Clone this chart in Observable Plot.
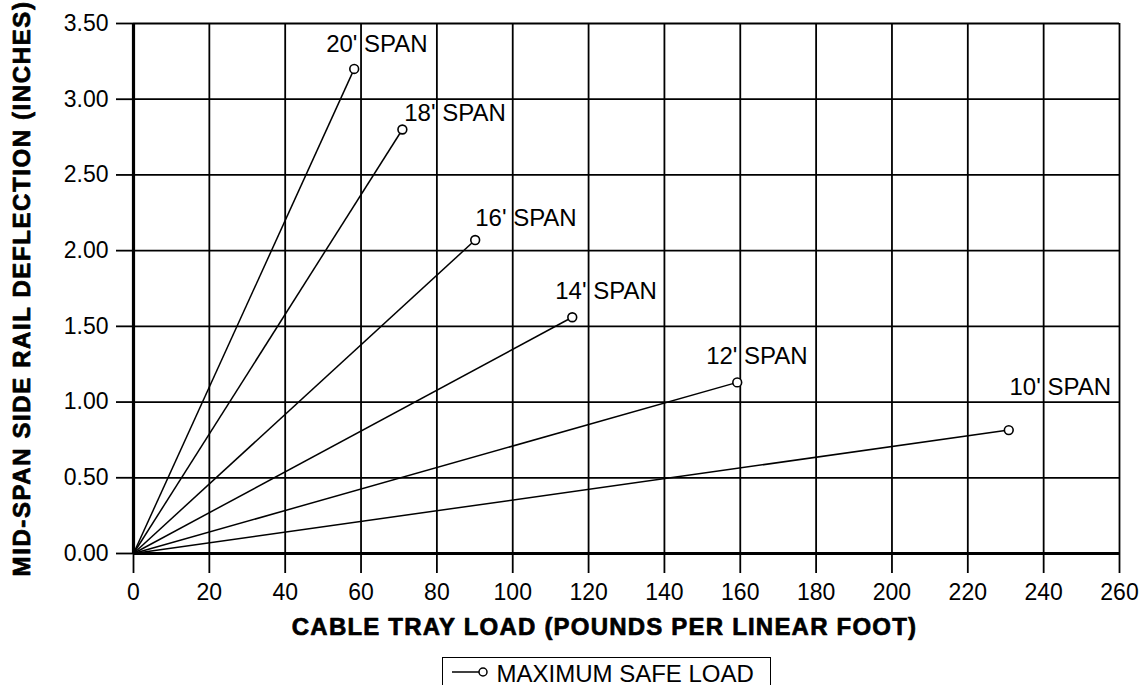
<!DOCTYPE html>
<html>
<head>
<meta charset="utf-8">
<script src="https://cdn.jsdelivr.net/npm/d3@7"></script>
<script src="https://cdn.jsdelivr.net/npm/@observablehq/plot@0.6"></script>
<style>
  html, body { margin: 0; padding: 0; background: #fff; }
  body { width: 1143px; height: 685px; overflow: hidden; font-family: Arial, "Liberation Sans", Helvetica, sans-serif; }
  #legend {
    position: absolute; left: 442px; top: 657px; width: 329px; height: 40px;
    border: 1.5px solid #000; box-sizing: border-box; background: #fff; color: #000;
  }
  #legend svg { position: absolute; left: 9px; top: 6.5px; }
  #legend span { position: absolute; left: 53.5px; top: 6px; font-size: 24px; line-height: 20px; white-space: nowrap; }
</style>
</head>
<body>
<div id="chart"></div>
<div id="legend"><svg width="40" height="14"><line x1="0" y1="7" x2="27" y2="7" stroke="#000" stroke-width="1.5"/><circle cx="31" cy="7" r="4" fill="#fff" stroke="#000" stroke-width="1.5"/></svg><span>MAXIMUM SAFE LOAD</span></div>
<script>
const spans = ["20' SPAN", "18' SPAN", "16' SPAN", "14' SPAN", "12' SPAN", "10' SPAN"];
const loads = [58.2, 70.9, 90.1, 115.7, 159.2, 230.8];
const deflections = [3.2, 2.8, 2.07, 1.56, 1.13, 0.815];
const labelLoads = [50.8, 71.4, 90.1, 111.2, 151.0, 231.0];
const labelDeflections = [3.36, 2.91, 2.215, 1.73, 1.30, 1.10];
const xTicks = d3.range(0, 261, 20);
const yTicks = [0, 0.5, 1, 1.5, 2, 2.5, 3, 3.5];
const xTitle = "CABLE TRAY LOAD (POUNDS PER LINEAR FOOT)";
const yTitle = "MID-SPAN SIDE RAIL DEFLECTION (INCHES)";

const data = spans.map((s, i) => ({
  span: s, load: loads[i], defl: deflections[i], lx: labelLoads[i], ly: labelDeflections[i]
}));

const font = 'Arial, "Liberation Sans", Helvetica, sans-serif';
const titleFont = '"Liberation Sans", Arial, sans-serif';

const chart = Plot.plot({
  width: 1143,
  height: 650,
  marginLeft: 133,
  marginRight: 24,
  marginTop: 23,
  marginBottom: 97,
  style: { fontFamily: font, fontSize: "23px", color: "#000", background: "#fff", overflow: "visible" },
  x: { domain: [0, 260] },
  y: { domain: [0, 3.5] },
  marks: [
    Plot.ruleX(xTicks, { y1: 0, y2: 3.5, stroke: "#000", strokeWidth: 1.8 }),
    Plot.ruleY(yTicks, { x1: 0, x2: 260, stroke: "#000", strokeWidth: 1.8 }),
    Plot.axisX({ ticks: xTicks, tickSize: 20, tickPadding: 10, strokeWidth: 1.8, label: null, fontSize: 23 }),
    Plot.axisY({ ticks: yTicks, tickSize: 17, tickPadding: 8, strokeWidth: 1.8, label: null, tickFormat: d3.format(".2f"), fontSize: 23 }),
    Plot.ruleX([0], { stroke: "#000", strokeWidth: 3.2 }),
    Plot.ruleY([0], { stroke: "#000", strokeWidth: 3.2 }),
    Plot.link(data, { x1: 0, y1: 0, x2: "load", y2: "defl", stroke: "#000", strokeWidth: 1.5 }),
    Plot.dot(data, { x: "load", y: "defl", r: 4.4, fill: "#fff", stroke: "#000", strokeWidth: 1.6 }),
    Plot.text(data, { x: "lx", y: "ly", text: "span", textAnchor: "start", fontSize: 24, fill: "#000" }),
    Plot.text([xTitle], { frameAnchor: "bottom", textAnchor: "middle", lineAnchor: "middle", dx: -22, dy: 74, fontSize: 24, fontWeight: 900, fontFamily: titleFont, fill: "#000", stroke: "#000", strokeWidth: 0.7 }),
    Plot.text([yTitle], { frameAnchor: "left", textAnchor: "middle", lineAnchor: "middle", dx: -111, rotate: -90, fontSize: 24, fontWeight: 900, fontFamily: titleFont, fill: "#000", stroke: "#000", strokeWidth: 0.7 })
  ]
});
chart.querySelectorAll("text").forEach((t) => {
  if (t.textContent === xTitle) t.style.letterSpacing = "1.2px";
  if (t.textContent === yTitle) t.style.letterSpacing = "1.6px";
});
document.getElementById("chart").appendChild(chart);
</script>
</body>
</html>
